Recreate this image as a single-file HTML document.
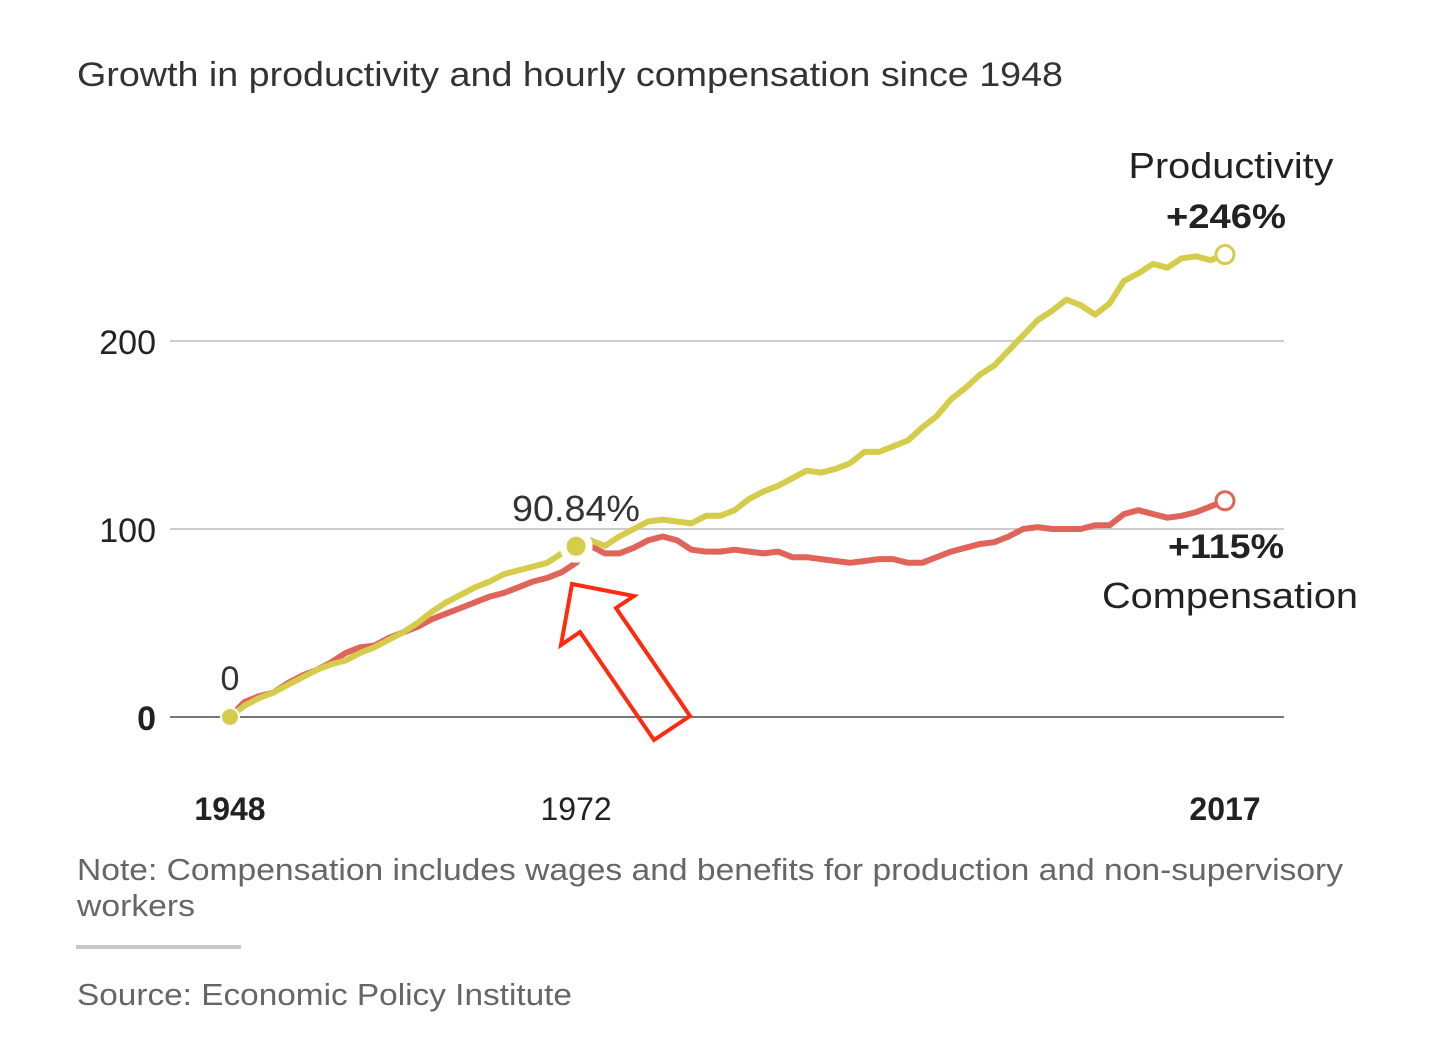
<!DOCTYPE html>
<html><head><meta charset="utf-8"><style>
html,body{margin:0;padding:0;background:#fff;}
svg{display:block;font-family:"Liberation Sans",sans-serif;}
</style></head><body>
<svg id="chart" width="1456" height="1051" viewBox="0 0 1456 1051">
<text x="77" y="86" font-size="34" fill="#333" textLength="986" lengthAdjust="spacingAndGlyphs">Growth in productivity and hourly compensation since 1948</text>
<g id="grid"></g>
<g id="lines"></g>
<g id="labels"></g>
<polygon points="572,584 634,596 616,608 690,716 654,740 580,632 561,645" fill="none" stroke="#ff2a10" stroke-width="4" stroke-linejoin="miter"/>
<text x="1231" y="178" font-size="36" fill="#222" text-anchor="middle" textLength="205" lengthAdjust="spacingAndGlyphs">Productivity</text>
<text x="1226" y="228" font-size="34" font-weight="bold" fill="#222" text-anchor="middle" textLength="120" lengthAdjust="spacingAndGlyphs">+246%</text>
<text x="1226" y="558" font-size="34" font-weight="bold" fill="#222" text-anchor="middle" textLength="116" lengthAdjust="spacingAndGlyphs">+115%</text>
<text x="1230" y="608" font-size="36" fill="#222" text-anchor="middle" textLength="256" lengthAdjust="spacingAndGlyphs">Compensation</text>
<text x="576" y="521" font-size="36" fill="#333" text-anchor="middle" textLength="128" lengthAdjust="spacingAndGlyphs">90.84%</text>
<text x="230" y="690" font-size="34" fill="#333" text-anchor="middle">0</text>
<text x="77" y="880" font-size="31" fill="#666" textLength="1266" lengthAdjust="spacingAndGlyphs">Note: Compensation includes wages and benefits for production and non-supervisory</text>
<text x="77" y="916" font-size="31" fill="#666" textLength="118" lengthAdjust="spacingAndGlyphs">workers</text>
<rect x="76" y="945" width="165" height="4" fill="#c8c8c8"/>
<text x="77" y="1005" font-size="31" fill="#666" textLength="495" lengthAdjust="spacingAndGlyphs">Source: Economic Policy Institute</text>
</svg>
<script>
const years = [];
for (let y = 1948; y <= 2017; y++) years.push(y);
const productivity = [0,6,10,13,17,21,25,28,30,34,37,41,45,50,56,61,65,69,72,76,78,80,82,87,90.84,94,91,96,100,104,105,104,103,107,107,110,116,120,123,127,131,130,132,135,141,141,144,147,154,160,169,175,182,187,195,203,211,216,222,219,214,220,232,236,241,239,244,245,243,246];
const compensation = [0,8,11,13,18,22,25,29,34,37,38,42,45,48,52,55,58,61,64,66,69,72,74,77,82,91,87,87,90,94,96,94,89,88,88,89,88,87,88,85,85,84,83,82,83,84,84,82,82,85,88,90,92,93,96,100,101,100,100,100,102,102,108,110,108,106,107,109,112,115];
const yTicks = [0,100,200];
const xTicks = [1948,1972,2017];

const X = yr => 230 + (yr - 1948) * (995 / 69);
const Y = v => 717 - v * 1.88;
const NS = "http://www.w3.org/2000/svg";
function mk(tag, attrs, parent) {
  const e = document.createElementNS(NS, tag);
  for (const k in attrs) e.setAttribute(k, attrs[k]);
  parent.appendChild(e);
  return e;
}
const grid = document.getElementById('grid');
const lines = document.getElementById('lines');
const labels = document.getElementById('labels');

yTicks.forEach(t => {
  const l = mk('line', {x1:170, x2:1284, y1:Y(t), y2:Y(t), stroke: t === 0 ? '#777' : '#ccc', 'stroke-width': 2}, grid);
  
  
  const tx = mk('text', {x:156, y:Y(t) + 13, 'font-size':34, fill:'#222', 'text-anchor':'end', 'font-weight': t === 0 ? 'bold' : 'normal'}, labels);
  tx.textContent = t;
  
  
});
xTicks.forEach((t, i) => {
  const tx = mk('text', {x:X(t), y:820, 'font-size':32, fill:'#222', 'text-anchor':'middle', 'font-weight': i === 1 ? 'normal' : 'bold'}, labels);
  tx.textContent = t;
  
  
});

function path(vals, color, name) {
  const d = vals.map((v, i) => (i ? 'L' : 'M') + X(years[i]).toFixed(1) + ',' + Y(v).toFixed(1)).join(' ');
  const p = mk('path', {d: d, fill:'none', stroke: color, 'stroke-width': 6, 'stroke-linejoin':'round'}, lines);
  
  
}
path(compensation, '#e0645a', 'compensation-line');
path(productivity, '#d6cc4c', 'productivity-line');

const i72 = years.indexOf(1972);
const d1 = mk('circle', {cx:X(1972), cy:Y(productivity[i72]), r:13, fill:'#d6cc4c', stroke:'#fff', 'stroke-width':7}, lines);


const d0 = mk('circle', {cx:X(1948), cy:Y(productivity[0]), r:9, fill:'#d6cc4c', stroke:'#fff', 'stroke-width':2}, lines);


const last = years.length - 1;
const e1 = mk('circle', {cx:X(2017), cy:Y(productivity[last]), r:9, fill:'#fff', stroke:'#d6cc4c', 'stroke-width':3}, lines);


const e2 = mk('circle', {cx:X(2017), cy:Y(compensation[last]), r:9, fill:'#fff', stroke:'#e0645a', 'stroke-width':3}, lines);


</script>
</body></html>
